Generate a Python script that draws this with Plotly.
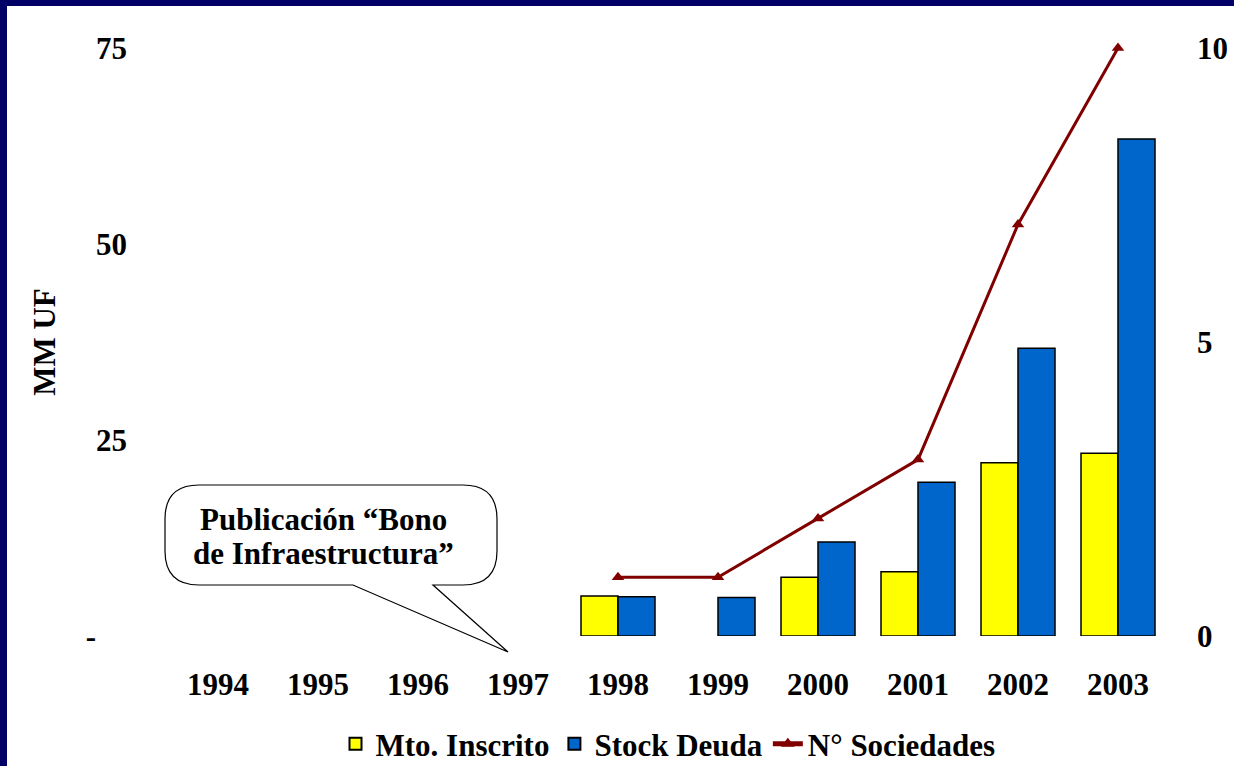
"""Bono de Infraestructura: monto inscrito, stock de deuda y n° de sociedades."""
import plotly.graph_objects as go

years = ["1994", "1995", "1996", "1997", "1998", "1999", "2000", "2001", "2002", "2003"]
mto_inscrito = [None, None, None, None, 5.1, None, 7.5, 8.2, 22.1, 23.3]
stock_deuda = [None, None, None, None, 5.0, 4.9, 12.0, 19.6, 36.7, 63.4]
n_sociedades = [None, None, None, None, 1, 1, 2, 3, 7, 10]

left_ticks = [0, 25, 50, 75]
left_labels = ["-\u00a0\u00a0\u00a0\u00a0", "25", "50", "75"]
right_ticks = [0, 5, 10]

W, H = 1234, 766
L, R, T, B = 168, 66, 48, 130
FONT = dict(family="Liberation Serif, Times New Roman, serif", size=31, color="black",
            weight="bold")


def px(x, y):
    """pixel -> paper coords"""
    pw, ph = W - L - R, H - T - B
    return (x - L) / pw, (H - B - y) / ph


def path(points):
    out = []
    for cmd, pts in points:
        coords = " ".join("%.5f,%.5f" % px(*p) for p in pts)
        out.append(cmd + " " + coords)
    return " ".join(out) + " Z"


fig = go.Figure()
fig.add_trace(go.Bar(x=years, y=mto_inscrito, name="Mto. Inscrito",
                     marker=dict(color="#FFFF00", line=dict(color="black", width=1.5))))
fig.add_trace(go.Bar(x=years, y=stock_deuda, name="Stock Deuda",
                     marker=dict(color="#0066CC", line=dict(color="black", width=1.5))))
fig.add_trace(go.Scatter(x=years, y=n_sociedades, name="N° Sociedades", yaxis="y2",
                         mode="lines+markers", cliponaxis=False,
                         line=dict(color="#800000", width=3),
                         marker=dict(symbol="triangle-up", size=11, color="#800000")))

# callout bubble
x0, x1, y0, y1, r = 165, 497, 485, 585, 34
bubble = path([
    ("M", [(x0 + r, y0)]), ("L", [(x1 - r, y0)]), ("Q", [(x1, y0), (x1, y0 + r)]),
    ("L", [(x1, y1 - r)]), ("Q", [(x1, y1), (x1 - r, y1)]),
    ("L", [(433, y1)]), ("L", [(508, 652)]), ("L", [(353, y1)]),
    ("L", [(x0 + r, y1)]), ("Q", [(x0, y1), (x0, y1 - r)]),
    ("L", [(x0, y0 + r)]), ("Q", [(x0, y0), (x0 + r, y0)]),
])

lx0, ly0 = px(0, 0)
lx1, ly1 = px(7, H)
tx1, ty1 = px(W, 6)
shapes = [
    dict(type="path", path=bubble, xref="paper", yref="paper",
         line=dict(color="black", width=1.2), fillcolor="white", layer="above"),
    dict(type="rect", xref="paper", yref="paper", x0=lx0, x1=lx1, y0=ly0, y1=ly1,
         fillcolor="#000066", line=dict(width=0)),
    dict(type="rect", xref="paper", yref="paper", x0=lx0, x1=tx1, y0=ly0, y1=ty1,
         fillcolor="#000066", line=dict(width=0)),
]

ax1, ay1 = px(323, 519)
ax2, ay2 = px(323, 553)
annotations = [
    dict(text="Publicación “Bono", x=ax1, y=ay1, xref="paper", yref="paper",
         showarrow=False, font=FONT, xanchor="center", yanchor="middle"),
    dict(text="de Infraestructura”", x=ax2, y=ay2, xref="paper", yref="paper",
         showarrow=False, font=FONT, xanchor="center", yanchor="middle"),
]

fig.update_layout(
    width=W, height=H,
    margin=dict(l=L, r=R, t=T, b=B, autoexpand=False),
    paper_bgcolor="white", plot_bgcolor="white",
    font=FONT,
    barmode="group", bargap=0.26, bargroupgap=0,
    showlegend=True,
    legend=dict(orientation="h", x=0.5, xanchor="center", y=px(0, 744)[1], yanchor="middle",
                font=FONT, itemsizing="constant", traceorder="normal"),
    xaxis=dict(type="category", range=[-0.5, 9.5], showline=False, showgrid=False,
               ticks="", ticklabelstandoff=27, tickfont=FONT),
    yaxis=dict(range=[0, 75], tickvals=left_ticks, ticktext=left_labels, showgrid=False,
               zeroline=False, showline=False, ticks="", ticklabelstandoff=40,
               tickfont=FONT,
               title=dict(text="MM UF", font=FONT, standoff=20)),
    yaxis2=dict(range=[0, 10], tickvals=right_ticks, overlaying="y", side="right",
                showgrid=False, zeroline=False, showline=False, ticks="",
                ticklabelstandoff=28, tickfont=FONT),
    shapes=shapes,
    annotations=annotations,
)

fig.write_html("out.html", config={"displayModeBar": False},
               post_script="document.body.style.margin='0';")
